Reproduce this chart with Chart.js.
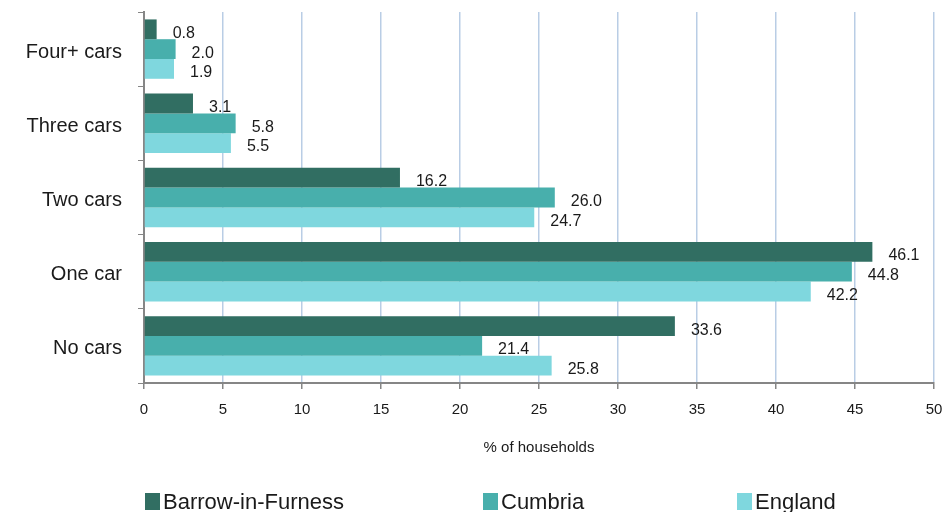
<!DOCTYPE html>
<html>
<head>
<meta charset="utf-8">
<script src="https://cdn.jsdelivr.net/npm/chart.js@4/dist/chart.umd.min.js"></script>
<style>
  html, body { margin: 0; padding: 0; background: #fff; }
  #wrap { width: 946px; height: 512px; }
</style>
</head>
<body>
<div id="wrap"><canvas id="Chart1" width="946" height="512"></canvas></div>
<script>
// data
var categories = ['Four+ cars', 'Three cars', 'Two cars', 'One car', 'No cars'];
var seriesNames = ['Barrow-in-Furness', 'Cumbria', 'England'];
var barrow = [0.8, 3.1, 16.2, 46.1, 33.6];
var cumbria = [2.0, 5.8, 26.0, 44.8, 21.4];
var england = [1.9, 5.5, 24.7, 42.2, 25.8];
var colours = ['#316e62', '#48afac', '#7fd7de'];

var fontFam = '"Liberation Sans", Arial, sans-serif';

// value labels to the right of each bar
var barLabels = {
  id: 'barLabels',
  afterDatasetsDraw: function(chart) {
    var ctx = chart.ctx;
    ctx.save();
    ctx.font = '16px ' + fontFam;
    ctx.fillStyle = '#1a1a1a';
    ctx.textAlign = 'left';
    ctx.textBaseline = 'middle';
    chart.data.datasets.forEach(function(ds, i) {
      chart.getDatasetMeta(i).data.forEach(function(bar, j) {
        ctx.fillText(ds.data[j].toFixed(1), bar.x + 16, bar.y + 4);
      });
    });
    ctx.restore();
  }
};

// legend along the bottom
var bottomLegend = {
  id: 'bottomLegend',
  afterDraw: function(chart) {
    var ctx = chart.ctx;
    var xs = [145, 483, 737];
    ctx.save();
    ctx.font = '22px ' + fontFam;
    ctx.textBaseline = 'middle';
    chart.data.datasets.forEach(function(ds, i) {
      ctx.fillStyle = ds.backgroundColor;
      ctx.fillRect(xs[i], 493, 15, 17);
      ctx.fillStyle = '#1a1a1a';
      ctx.fillText(ds.label, xs[i] + 18, 503);
    });
    ctx.restore();
  }
};

new Chart('Chart1', {
  type: 'bar',
  data: {
    labels: categories,
    datasets: [
      { label: seriesNames[0], data: barrow, backgroundColor: colours[0] },
      { label: seriesNames[1], data: cumbria, backgroundColor: colours[1] },
      { label: seriesNames[2], data: england, backgroundColor: colours[2] }
    ]
  },
  options: {
    indexAxis: 'y',
    responsive: false,
    animation: false,
    layout: { padding: { top: 12, right: 12, bottom: 55, left: 0 } },
    datasets: { bar: { categoryPercentage: 0.8, barPercentage: 1.0 } },
    plugins: {
      legend: { display: false },
      tooltip: { enabled: false }
    },
    scales: {
      x: {
        min: 0,
        max: 50,
        ticks: { stepSize: 5, color: '#1a1a1a', font: { family: fontFam, size: 15 }, padding: 12 },
        grid: { color: '#b9cde5', lineWidth: 1.5, tickColor: '#868686', tickLength: 6 },
        border: { color: '#868686', width: 2 },
        title: { display: true, text: '% of households', color: '#1a1a1a', font: { family: fontFam, size: 15 }, padding: { top: 0, bottom: 0 } },
        afterFit: function(scale) {
          scale.height = 74;
          scale.paddingLeft = 0;
          scale.paddingRight = 0;
        }
      },
      y: {
        ticks: { color: '#1a1a1a', font: { family: fontFam, size: 20 }, padding: 16, labelOffset: 3 },
        grid: { drawOnChartArea: false, offset: true, tickColor: '#868686', tickLength: 6 },
        border: { color: '#868686', width: 2 },
        afterFit: function(scale) {
          scale.width = 144;
          scale.paddingTop = 0;
          scale.paddingBottom = 0;
        }
      }
    }
  },
  plugins: [barLabels, bottomLegend]
});
</script>
</body>
</html>
